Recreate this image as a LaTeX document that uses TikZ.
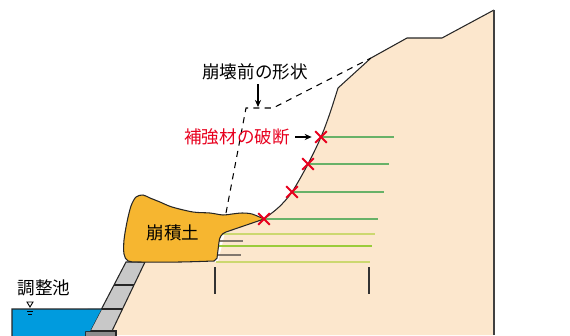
\documentclass[tikz,border=0pt]{standalone}
\usepackage{fontspec}
\setmainfont{Noto Sans CJK JP}
\usepackage{xcolor}
\usepackage{tikz}
\usetikzlibrary{positioning, arrows.meta, shapes.misc, calc}

\definecolor{groundfill}{RGB}{252,231,205}
\definecolor{soilfill}{RGB}{246,182,48}
\definecolor{wallfill}{RGB}{200,200,200}
\definecolor{platefill}{RGB}{140,140,140}
\definecolor{waterfill}{RGB}{0,155,222}
\definecolor{brkred}{RGB}{232,0,30}
\definecolor{nailgreen}{RGB}{104,178,104}
\definecolor{nailyellow}{RGB}{204,216,112}
\definecolor{nailbright}{RGB}{154,204,60}
\definecolor{nailgray}{RGB}{130,120,110}

\begin{document}
\begin{tikzpicture}[
  x=0.02cm, y=-0.02cm,
  tag/.style={font=\fontsize{10}{12}\selectfont, inner sep=1pt},
  arrow/.style={-{Stealth[length=4pt, width=3.5pt]}, line width=0.6pt},
  outline/.style={draw=black!85, line width=0.6pt},
  nail/.style={line width=1.1pt},
  broken/.style={cross out, draw=brkred, line width=1.1pt, minimum size=5.5pt, inner sep=0pt},
  before/.style={dash pattern=on 3.5pt off 3pt, line width=0.6pt},
  tick/.style={draw=black!80, line width=0.6pt}
]
\useasboundingbox (0,0) rectangle (570,335);

% Ground
\fill[groundfill] (494,335) -- (494,10) -- (442,38) -- (407,38) -- (371,58) -- (338,88)
  -- plot[smooth, tension=.5] coordinates {(338,88) (330,113) (321,137) (308,164) (292,192) (279,207) (264,219)}
  -- (225,233) -- (218,262) -- (145,262) -- (112,331) -- (116,335) -- cycle;
\draw[outline] (494,10) -- (442,38) -- (407,38) -- (371,58) -- (338,88)
  -- plot[smooth, tension=.5] coordinates {(338,88) (330,113) (321,137) (308,164) (292,192) (279,207) (264,219)};
\draw[draw=black!75, line width=1pt] (494,10) -- (494,335);

% Reinforcement
\foreach \y/\xa/\xb/\c in {137/321/394/nailgreen, 164/308/389/nailgreen, 192/292/384/nailgreen,
    219/264/378/nailgreen, 234/220/375/nailyellow, 246/219/372/nailbright, 262/216/370/nailyellow}
  \draw[nail, \c] (\xa,\y) -- (\xb,\y);
\foreach \y/\xb in {241/243, 255/241}
  \draw[nail, nailgray] (218,\y) -- (\xb,\y);
\draw[tick] (215,267) -- (215,294);
\draw[tick] (369,267) -- (369,294);

% Retaining wall
\coordinate (w1) at (126,262);
\coordinate (w2) at (145,262);
\coordinate (w3) at (112,331);
\coordinate (w4) at (90,331);
\filldraw[fill=wallfill, outline] (w1) -- (w2) -- (w3) -- (w4) -- cycle;
\foreach \t in {0.333, 0.681}
  \draw[outline] ($(w1)!\t!(w4)$) -- ($(w2)!\t!(w3)$);
\filldraw[fill=platefill, outline] (85,331) rectangle (116,337);

% Pond
\fill[waterfill] (12,336) -- (12,309) -- ($(w1)!0.681!(w4)$) -- (w4) -- (85,331) -- (85,336) -- cycle;
\draw[outline] (12,336) -- (12,309) -- ($(w1)!0.681!(w4)$);
\draw[line width=0.5pt] (27,302) -- (33,302) -- (30,307) -- cycle;
\draw[line width=0.5pt] (27,311) -- (33,311) (28,314) -- (32,314);

% Debris
\filldraw[fill=soilfill, outline] (264,219) -- (226,232) to[out=200, in=85] (219,242) -- (217,258)
  -- plot[smooth, tension=.5] coordinates {(214,261) (180,262) (140,262) (128,261) (124,254) (124,240)
     (127,222) (131,206) (136,197) (143,195) (150,198) (160,202) (172,207) (193,212) (210,213)
     (223,215) (232,214) (242,213) (252,214) (264,219)} -- cycle;

% Former surface
\draw[before] (226,213) -- (246,108) -- (273,108) -- (371,58);
\coordinate (crest) at (258,107);

% Breaks
\node[broken] (cut1) at (321,137) {};
\node[broken] (cut2) at (308,164) {};
\node[broken] (cut3) at (292,192) {};
\node[broken] (cut4) at (264,219) {};

% Nodes
\node[tag] (shape) at (255,72) {崩壊前の形状};
\node[tag, text=brkred] (break) at (237,137) {補強材の破断};
\node[tag] (soil) at (173,233) {崩積土};
\node[tag] (pond) at (44,288) {調整池};

% Arrows
\draw[arrow] (shape.south -| crest) ++(0,2) -- (crest);
\draw[arrow, shorten <=2pt, shorten >=2pt] (break) -- (cut1);

\end{tikzpicture}
\end{document}
